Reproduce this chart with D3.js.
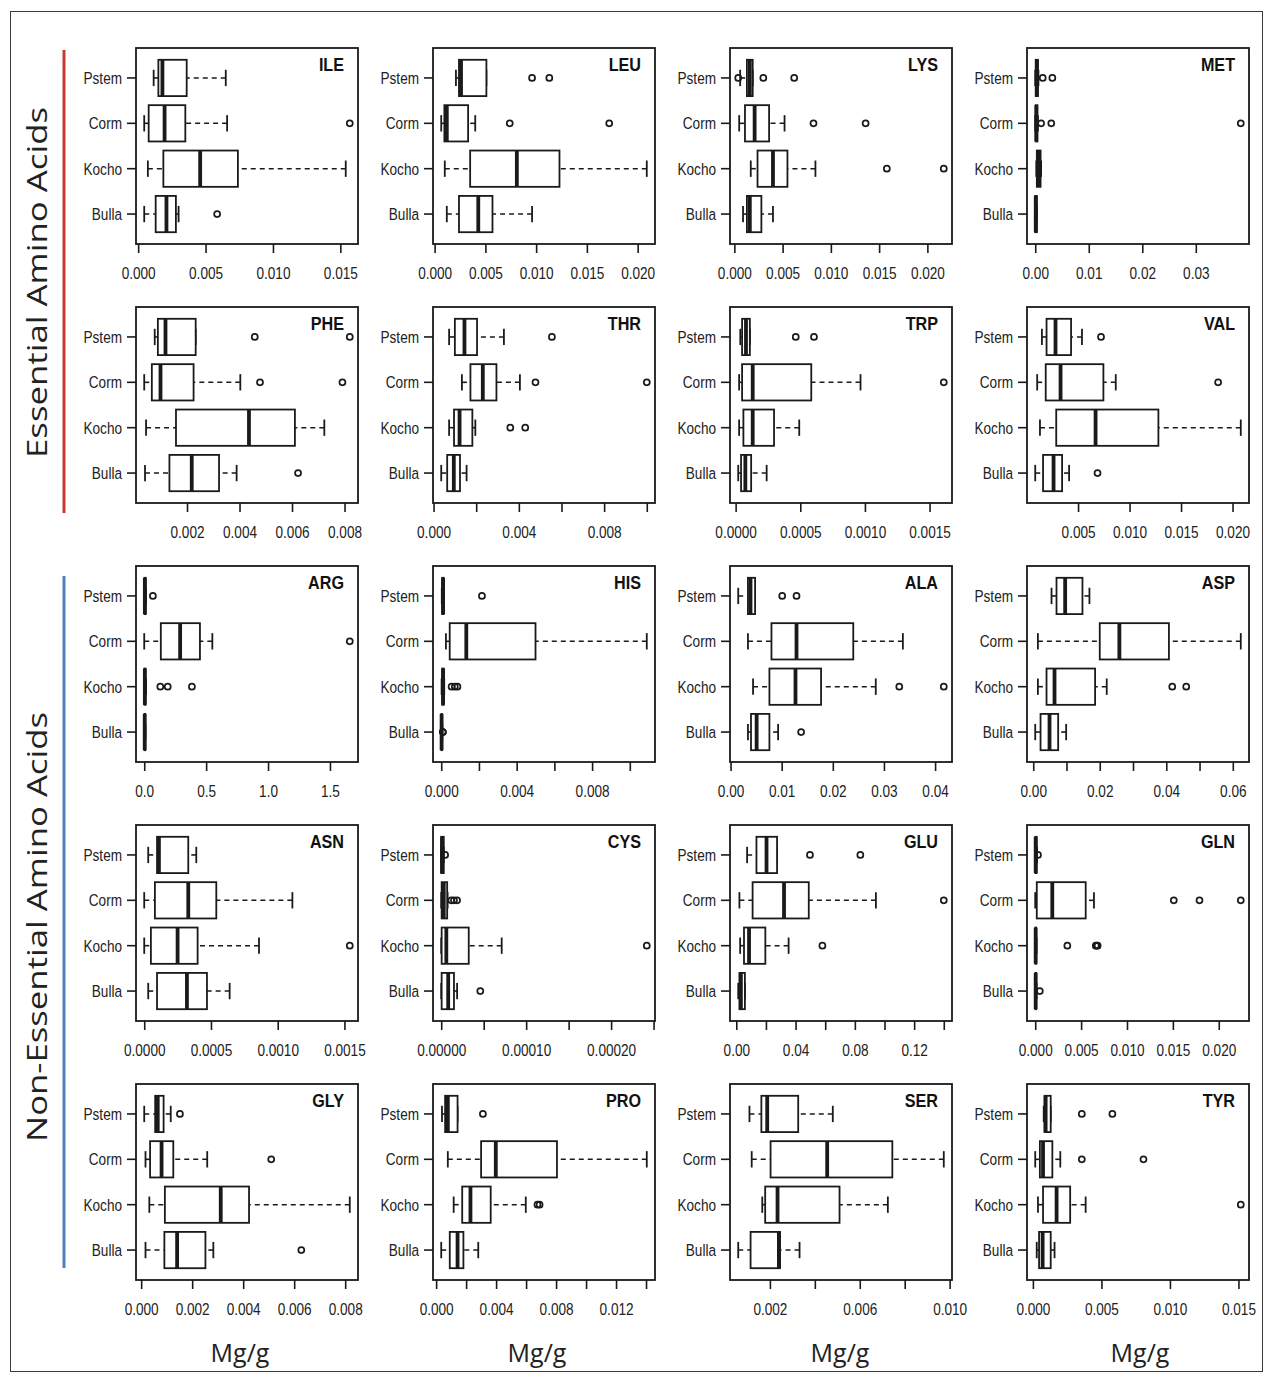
<!DOCTYPE html>
<html><head><meta charset="utf-8">
<script src="https://cdn.jsdelivr.net/npm/d3@7/dist/d3.min.js"></script>
<style>body{margin:0;background:#fff}</style>
</head><body>
<svg id="c" width="1270" height="1377"></svg>
<script>
// groups, top to bottom
const groups = ["Pstem", "Corm", "Kocho", "Bulla"];
// stats rows: [whisker low, Q1, median, Q3, whisker high] per group; out: outliers per group
const ILE = { name: "ILE",
  stats: [[0.00115,0.0015,0.0018,0.0036,0.0065],[0.00045,0.00078,0.00196,0.0035,0.0066],[0.00072,0.00187,0.0046,0.0074,0.0154],[0.00045,0.0013,0.0021,0.0028,0.0030]],
  out: [[],[0.0157],[],[0.00586]],
  ticks: [0,0.005,0.010,0.015], labels: ["0.000","0.005","0.010","0.015"] };
const LEU = { name: "LEU",
  stats: [[0.0021,0.0024,0.0026,0.0051,0.0051],[0.00065,0.00096,0.0012,0.0033,0.0040],[0.0010,0.0035,0.0081,0.0123,0.0209],[0.0012,0.0024,0.0043,0.0057,0.0096]],
  out: [[0.0096,0.0113],[0.0074,0.0172],[],[]],
  ticks: [0,0.005,0.010,0.015,0.020], labels: ["0.000","0.005","0.010","0.015","0.020"] };
const LYS = { name: "LYS",
  stats: [[0.0006,0.0013,0.0016,0.0019,0.0019],[0.0005,0.0011,0.0021,0.0036,0.0052],[0.0017,0.0024,0.0040,0.0055,0.0084],[0.0009,0.0013,0.0016,0.0028,0.0040]],
  out: [[0.0004,0.0030,0.0062],[0.0082,0.0136],[0.0158,0.0217],[]],
  ticks: [0,0.005,0.010,0.015,0.020], labels: ["0.000","0.005","0.010","0.015","0.020"] };
const MET = { name: "MET",
  stats: [[0.0000,0.0001,0.0003,0.0005,0.0006],[0.0000,0.0001,0.0002,0.0004,0.0005],[0.0002,0.0003,0.0006,0.0010,0.0011],[0.0000,0.0000,0.0001,0.0003,0.0003]],
  out: [[0.0014,0.0032],[0.0011,0.0030,0.0384],[],[]],
  ticks: [0,0.01,0.02,0.03], labels: ["0.00","0.01","0.02","0.03"] };
const PHE = { name: "PHE",
  stats: [[0.00077,0.00089,0.00118,0.00233,0.00233],[0.00037,0.00066,0.00099,0.00225,0.00403],[0.00044,0.00158,0.00436,0.00611,0.00723],[0.0004,0.00133,0.00218,0.00322,0.00389]],
  out: [[0.00458,0.0082],[0.00478,0.00792],[],[0.00623]],
  ticks: [0.002,0.004,0.006,0.008], labels: ["0.002","0.004","0.006","0.008"] };
const THR = { name: "THR",
  stats: [[0.00073,0.0010,0.00145,0.00204,0.0033],[0.00133,0.00173,0.00231,0.00295,0.00405],[0.00073,0.00096,0.00122,0.00182,0.00196],[0.00036,0.00064,0.00095,0.00124,0.00155]],
  out: [[0.00555],[0.00478,0.0100],[0.0036,0.0043],[]],
  ticks: [0,0.002,0.004,0.006,0.008,0.010], labels: ["0.000","","0.004","","0.008",""] };
const TRP = { name: "TRP",
  stats: [[0.000036,0.00005,0.00008,0.00011,0.00011],[0.000027,0.00005,0.000132,0.000585,0.000966],[0.000027,0.00006,0.000132,0.000297,0.000492],[0.00002,0.000042,0.000075,0.00012,0.00024]],
  out: [[0.000465,0.000606],[0.00161],[],[]],
  ticks: [0,0.0005,0.0010,0.0015], labels: ["0.0000","0.0005","0.0010","0.0015"] };
const VAL = { name: "VAL",
  stats: [[0.00149,0.00194,0.00281,0.00432,0.00538],[0.00103,0.00186,0.0033,0.00746,0.00866],[0.0013,0.00288,0.0067,0.0128,0.0208],[0.00084,0.0016,0.00262,0.00345,0.00413]],
  out: [[0.00723],[0.0186],[],[0.00689]],
  ticks: [0.005,0.010,0.015,0.020], labels: ["0.005","0.010","0.015","0.020"] };
const ARG = { name: "ARG",
  stats: [[0,0.002,0.005,0.012,0.015],[0,0.134,0.29,0.45,0.55],[0,0.002,0.005,0.01,0.015],[0,0.002,0.004,0.008,0.01]],
  out: [[0.07],[1.66],[0.13,0.19,0.385],[]],
  ticks: [0,0.5,1.0,1.5], labels: ["0.0","0.5","1.0","1.5"] };
const HIS = { name: "HIS",
  stats: [[0.00003,0.00005,0.0001,0.00013,0.00015],[0.00025,0.00045,0.00133,0.0050,0.0109],[0.00002,0.00005,0.0001,0.00013,0.00016],[0,0.00001,0.00002,0.00004,0.00006]],
  out: [[0.00216],[],[0.00055,0.00072,0.00086],[0.00008,0.00009]],
  ticks: [0,0.002,0.004,0.006,0.008,0.010], labels: ["0.000","","0.004","","0.008",""] };
const ALA = { name: "ALA",
  stats: [[0.0015,0.0034,0.0039,0.0048,0.0048],[0.0034,0.008,0.0129,0.024,0.0337],[0.0044,0.0076,0.0127,0.0177,0.0284],[0.0034,0.004,0.0051,0.0076,0.0093]],
  out: [[0.0101,0.0129],[],[0.033,0.0417],[0.0138]],
  ticks: [0,0.01,0.02,0.03,0.04], labels: ["0.00","0.01","0.02","0.03","0.04"] };
const ASP = { name: "ASP",
  stats: [[0.0055,0.0070,0.0096,0.0148,0.0169],[0.0014,0.020,0.0259,0.0408,0.0624],[0.0014,0.004,0.0064,0.0186,0.0221],[0.0006,0.0022,0.0049,0.0075,0.0099]],
  out: [[],[],[0.0418,0.046],[]],
  ticks: [0,0.01,0.02,0.03,0.04,0.05,0.06], labels: ["0.00","","0.02","","0.04","","0.06"] };
const ASN = { name: "ASN",
  stats: [[0.00003,0.000096,0.00011,0.00033,0.00039],[0,0.00008,0.00033,0.00054,0.00111],[0,0.00005,0.00025,0.0004,0.00086],[0.00003,0.000096,0.00032,0.00047,0.00064]],
  out: [[],[],[0.00154],[]],
  ticks: [0,0.0005,0.0010,0.0015], labels: ["0.0000","0.0005","0.0010","0.0015"] };
const CYS = { name: "CYS",
  stats: [[0,0,0.000001,0.000003,0.000003],[0,0.0000005,0.000003,0.000007,0.0000075],[0,0.0000005,0.000006,0.0000324,0.0000712],[0,0.0000005,0.0000082,0.000015,0.0000187]],
  out: [[0.0000046],[0.0000119,0.000015,0.0000187],[0.000242],[0.000046]],
  ticks: [0,0.00005,0.00010,0.00015,0.00020,0.00025], labels: ["0.00000","","0.00010","","0.00020",""] };
const GLU = { name: "GLU",
  stats: [[0.0073,0.0136,0.0204,0.0275,0.0275],[0.0021,0.011,0.0322,0.0489,0.0942],[0.0026,0.0052,0.0086,0.0196,0.0353],[0.0013,0.0021,0.0031,0.0058,0.0058]],
  out: [[0.0497,0.0837],[0.14],[0.0581],[]],
  ticks: [0,0.02,0.04,0.06,0.08,0.10,0.12,0.14], labels: ["0.00","","0.04","","0.08","","0.12",""] };
const GLN = { name: "GLN",
  stats: [[0,0.00002,0.00005,0.00015,0.0002],[0,0.00017,0.00186,0.0055,0.0064],[0,0.00002,0.00005,0.0001,0.00015],[0,0.00002,0.00005,0.0001,0.00015]],
  out: [[0.0003],[0.0151,0.0179,0.0224],[0.0035,0.0066,0.0067,0.0068],[0.0005]],
  ticks: [0,0.005,0.010,0.015,0.020], labels: ["0.000","0.005","0.010","0.015","0.020"] };
const GLY = { name: "GLY",
  stats: [[0.00012,0.00055,0.00065,0.00088,0.00116],[0.00017,0.00035,0.0008,0.00126,0.00259],[0.00032,0.00093,0.00312,0.00423,0.00818],[0.00017,0.00091,0.00141,0.00252,0.00283]],
  out: [[0.00152],[0.0051],[],[0.00628]],
  ticks: [0,0.002,0.004,0.006,0.008], labels: ["0.000","0.002","0.004","0.006","0.008"] };
const PRO = { name: "PRO",
  stats: [[0.00039,0.0006,0.00078,0.00143,0.00143],[0.00078,0.003,0.00398,0.00806,0.01405],[0.00117,0.00174,0.00229,0.00364,0.00598],[0.00034,0.00091,0.00143,0.00182,0.00281]],
  out: [[0.00312],[],[0.00676,0.0069],[]],
  ticks: [0,0.002,0.004,0.006,0.008,0.010,0.012,0.014], labels: ["0.000","","0.004","","0.008","","0.012",""] };
const SER = { name: "SER",
  stats: [[0.00109,0.00162,0.00188,0.00326,0.0048],[0.00119,0.00203,0.00455,0.00745,0.00974],[0.00166,0.00179,0.00234,0.0051,0.00725],[0.00059,0.00114,0.0024,0.00245,0.00332]],
  out: [[],[],[],[]],
  ticks: [0.002,0.004,0.006,0.008,0.010], labels: ["0.002","","0.006","","0.010"] };
const TYR = { name: "TYR",
  stats: [[0.00079,0.00085,0.00093,0.0013,0.0013],[0.00017,0.00051,0.00074,0.00142,0.002],[0.00037,0.00074,0.00173,0.00272,0.00385],[0.00028,0.00045,0.00071,0.0013,0.00158]],
  out: [[0.00357,0.0058],[0.00357,0.00807],[0.01517],[]],
  ticks: [0,0.005,0.010,0.015], labels: ["0.000","0.005","0.010","0.015"] };

const panels = [ILE, LEU, LYS, MET, PHE, THR, TRP, VAL, ARG, HIS, ALA, ASP, ASN, CYS, GLU, GLN, GLY, PRO, SER, TYR];
const sectionTitles = ["Essential Amino Acids", "Non-Essential Amino Acids"];
const unitLabel = "Mg/g";

// ---- layout ----
const svg = d3.select("#c");
const colX = [136, 433, 730, 1027], rowY = [48, 307, 566, 825, 1084];
const unitX = [240, 537, 840, 1140];
const PW = 222, PH = 196;
const ink = "#1a1a1a";
const SX = 0.8; // horizontal condensation of R text
const tickFont = "'Liberation Sans', Arial, sans-serif";

svg.append("rect").attr("x", 10.5).attr("y", 11.5).attr("width", 1252).attr("height", 1360)
  .attr("fill", "none").attr("stroke", "#3a3a3a").attr("stroke-width", 1);

panels.forEach((p, i) => {
  const c = i % 4, r = Math.floor(i / 4);
  const g = svg.append("g").attr("transform", `translate(${colX[c]},${rowY[r]})`);
  const vals = p.stats.flat().concat(p.out.flat());
  const [mn, mx] = d3.extent(vals);
  const pad = (mx - mn) * 0.04;
  const x = d3.scaleLinear().domain([mn - pad, mx + pad]).range([0, PW]);
  const y = d3.scaleBand().domain(groups).range([0, PH]).paddingInner(0).paddingOuter(0.16);
  const bw = y.bandwidth(), bh = bw * 0.8, sh = bh * 0.45;

  groups.forEach((gr, k) => {
    const [lo, q1, md, q3, hi] = p.stats[k];
    const cy = y(gr) + bw / 2;
    const gg = g.append("g");
    // whiskers
    [[lo, q1], [hi, q3]].forEach(([a, b]) => {
      gg.append("line").attr("x1", x(a)).attr("x2", x(b)).attr("y1", cy).attr("y2", cy)
        .attr("stroke", ink).attr("stroke-width", 1.6).attr("stroke-dasharray", "5,4");
    });
    // staples
    [lo, hi].forEach(v => {
      gg.append("line").attr("x1", x(v)).attr("x2", x(v)).attr("y1", cy - sh / 2).attr("y2", cy + sh / 2)
        .attr("stroke", ink).attr("stroke-width", 1.8);
    });
    // box
    gg.append("rect").attr("x", x(q1)).attr("y", cy - bh / 2).attr("width", Math.max(0.01, x(q3) - x(q1)))
      .attr("height", bh).attr("fill", "#fff").attr("stroke", ink).attr("stroke-width", 1.8);
    // median
    gg.append("line").attr("x1", x(md)).attr("x2", x(md)).attr("y1", cy - bh / 2).attr("y2", cy + bh / 2)
      .attr("stroke", ink).attr("stroke-width", 3.8);
    // outliers
    gg.selectAll("circle.o").data(p.out[k]).join("circle").attr("class", "o")
      .attr("cx", d => x(d)).attr("cy", cy).attr("r", 3)
      .attr("fill", "none").attr("stroke", ink).attr("stroke-width", 1.7);
  });

  // frame
  g.append("rect").attr("width", PW).attr("height", PH).attr("fill", "none")
    .attr("stroke", ink).attr("stroke-width", 1.8);

  // x axis
  const xa = g.append("g").attr("transform", `translate(0,${PH})`)
    .call(d3.axisBottom(x).tickValues(p.ticks).tickSize(9).tickSizeOuter(0)
      .tickFormat((d, j) => p.labels[j]));
  xa.select(".domain").remove();
  xa.selectAll(".tick line").attr("stroke", ink).attr("stroke-width", 1.6);
  xa.selectAll(".tick text").attr("y", 0).attr("dy", null)
    .attr("transform", `translate(0,35) scale(${SX},1)`)
    .attr("fill", "#222").style("font-family", tickFont).style("font-size", "17px");

  // y axis
  const ya = g.append("g").call(d3.axisLeft(y).tickSize(9).tickSizeOuter(0));
  ya.select(".domain").remove();
  ya.selectAll(".tick line").attr("stroke", ink).attr("stroke-width", 1.6);
  ya.selectAll(".tick text").attr("x", 0).attr("dy", "0.35em")
    .attr("transform", `translate(-14,0) scale(${SX},1)`)
    .attr("fill", "#222").style("font-family", tickFont).style("font-size", "17px");

  // title
  g.append("text").attr("transform", `translate(${PW - 14},23) scale(0.85,1)`)
    .attr("text-anchor", "end").attr("fill", "#111")
    .style("font-family", tickFont).style("font-weight", "bold").style("font-size", "19px")
    .text(p.name);
});

// unit labels
unitX.forEach(ux => {
  svg.append("text").attr("x", ux).attr("y", 1362).attr("text-anchor", "middle")
    .attr("fill", "#222").style("font-family", "'Open Sans', sans-serif").style("font-size", "25px")
    .text(unitLabel);
});

// section labels and bars
const sections = [
  { title: sectionTitles[0], cy: 282.5, len: 351, y0: 50, y1: 513, color: "#c83a2e" },
  { title: sectionTitles[1], cy: 927, len: 430, y0: 576, y1: 1268, color: "#4f81bd" }
];
sections.forEach(s => {
  svg.append("text").attr("transform", `translate(47,${s.cy}) rotate(-90)`)
    .attr("text-anchor", "middle").attr("fill", "#222")
    .attr("textLength", s.len).attr("lengthAdjust", "spacingAndGlyphs")
    .style("font-family", "'Open Sans', sans-serif").style("font-size", "28px")
    .text(s.title);
  svg.append("line").attr("x1", 64).attr("x2", 64).attr("y1", s.y0).attr("y2", s.y1)
    .attr("stroke", s.color).attr("stroke-width", 3);
});
</script>
</body></html>
